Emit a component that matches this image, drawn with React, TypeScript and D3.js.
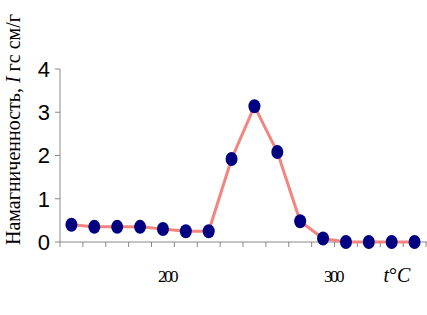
import React from "react";
import * as d3 from "d3";

const categories = ["1", "2", "3", "4", "5", "6", "7", "8", "9", "10", "11", "12", "13", "14", "15", "16"];
const magnetization = [0.4, 0.35, 0.35, 0.35, 0.3, 0.25, 0.25, 1.92, 3.14, 2.08, 0.48, 0.08, 0, 0, 0, 0];
const yTicks = [0, 1, 2, 3, 4];
const tempLabels = [200, 300];

export default function App() {
  const W = 427, H = 315;
  const left = 60, right = 426, top = 69, bottom = 242;
  const x = d3.scaleBand<string>().domain(categories).range([left, right]).padding(0);
  const y = d3.scaleLinear().domain([0, 4]).range([bottom, top]);
  const tempX = d3.scaleLinear().domain([200, 300]).range([167, 333]);
  const cx = (c: string) => (x(c) as number) + x.bandwidth() / 2;
  const line = d3.line<number>().x((_, i) => cx(categories[i])).y((d) => y(d));
  const boundaries = d3.range(categories.length + 1).map((i) => left + i * x.bandwidth());
  const axisColor = "#888";
  return (
    <svg width={W} height={H} style={{ position: "absolute", left: 0, top: 0, background: "#fff" }}>
      <line x1={left} x2={left} y1={top} y2={bottom} stroke={axisColor} strokeWidth={1} />
      {yTicks.map((t) => (
        <g key={t}>
          <line x1={left - 5} x2={left} y1={y(t)} y2={y(t)} stroke={axisColor} />
          <text x={50} y={y(t)} dy="0.36em" textAnchor="end" fontFamily="Liberation Sans, Arial" fontSize={22} fill="#000">
            {t}
          </text>
        </g>
      ))}
      <line x1={left} x2={W} y1={bottom} y2={bottom} stroke={axisColor} strokeWidth={1} />
      {boundaries.map((b, i) => (
        <line key={i} x1={b} x2={b} y1={bottom} y2={bottom + 5} stroke={axisColor} />
      ))}
      {tempLabels.map((t) => (
        <text key={t} x={tempX(t)} y={282} textAnchor="middle" fontFamily="Liberation Serif, Times New Roman" fontSize={17} letterSpacing={-2.5} fill="#000">
          {t}
        </text>
      ))}
      <text x={397} y={282} textAnchor="middle" fontFamily="Liberation Serif, Times New Roman" fontSize={20} fill="#000">
        <tspan fontStyle="italic">t</tspan>
        <tspan>°</tspan>
        <tspan fontStyle="italic">C</tspan>
      </text>
      <text transform="translate(20,245) rotate(-90)" fontFamily="Liberation Serif, Times New Roman" fontSize={20} fill="#000">
        Намагниченность, <tspan fontStyle="italic">I</tspan> гс см/г
      </text>
      <path d={line(magnetization) ?? ""} fill="none" stroke="#F4847E" strokeWidth={3} />
      {magnetization.map((v, i) => (
        <ellipse key={i} cx={cx(categories[i])} cy={y(v)} rx={6} ry={7} fill="#000080" />
      ))}
    </svg>
  );
}
